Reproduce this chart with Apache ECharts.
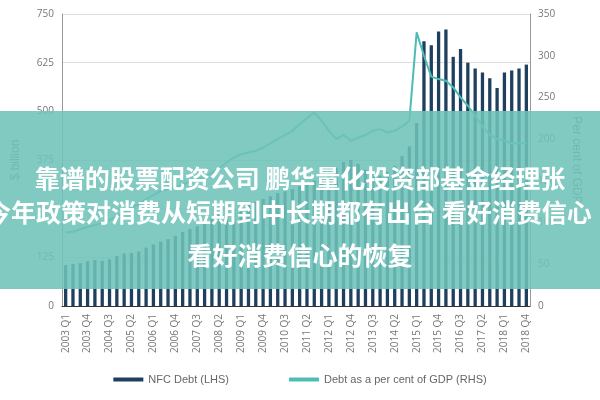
<!DOCTYPE html><html><head><meta charset="utf-8"><script src="https://cdn.jsdelivr.net/npm/echarts@6/dist/echarts.min.js"></script></head><body style="margin:0"><div id="c" style="width:600px;height:400px"></div><script>
const categories=[];for(let y=2003;y<=2018;y++)for(let q=1;q<=4;q++)categories.push(y+' Q'+q);
const nfcDebt=[105,108,110,115,118,116,120,128,135,136,140,150,158,165,172,180,190,198,205,215,225,235,240,250,255,262,268,275,282,290,295,300,308,315,322,330,340,355,370,375,365,350,340,335,345,360,385,410,470,680,670,705,710,640,660,625,610,600,585,560,600,605,610,620];
const debtGdp=[88,89,92,95,97,100,103,107,112,118,122,128,133,138,140,143,145,150,152,155,160,165,172,178,182,184,186,190,195,200,205,210,218,225,232,222,210,200,205,198,202,205,210,212,208,210,215,222,328,300,275,272,270,262,250,240,228,215,205,200,198,195,195,195];
const leftTicks=[0,125,250,375,500,625,750],rightTicks=[0,50,100,150,200,250,300,350];
const ch=echarts.init(document.getElementById('c'));
const lbl={color:'#777',fontSize:10,fontFamily:'Open Sans'};
ch.setOption({animation:false,
grid:{left:62,right:70,top:14,bottom:94},
legend:{bottom:10,itemGap:60,textStyle:{color:'#666',fontSize:11},data:[{name:'NFC Debt (LHS)',icon:'rect'},{name:'Debt as a per cent of GDP (RHS)',icon:'rect'}],itemWidth:30,itemHeight:4},
xAxis:{type:'category',data:categories,axisTick:{show:false},axisLine:{lineStyle:{color:'#333'}},axisLabel:Object.assign({},lbl,{rotate:90,interval:2})},
yAxis:[{type:'value',min:0,max:750,interval:125,name:'$ billion',nameLocation:'middle',nameGap:40,nameTextStyle:{color:'#777'},axisLabel:lbl,splitLine:{lineStyle:{color:'#ddd'}},axisLine:{show:true,lineStyle:{color:'#999'}}},
{type:'value',min:0,max:350,interval:50,name:'Per cent of GDP',nameLocation:'middle',nameGap:40,nameRotate:-90,nameTextStyle:{color:'#777'},axisLabel:lbl,splitLine:{show:false},axisLine:{show:true,lineStyle:{color:'#999'}}}],
series:[{name:'NFC Debt (LHS)',type:'bar',data:nfcDebt,barWidth:'45%',itemStyle:{color:'#1f3f5e'}},
{name:'Debt as a per cent of GDP (RHS)',type:'line',yAxisIndex:1,data:debtGdp,symbol:'none',lineStyle:{color:'#4cbdb3',width:2},itemStyle:{color:'#4cbdb3'}}],
graphic:[{type:'rect',shape:{x:0,y:111,width:600,height:178},style:{fill:'rgba(110,195,185,0.88)'},z:100},
{type:'text',left:'center',top:166,style:{text:'靠谱的股票配资公司 鹏华量化投资部基金经理张',fill:'#fff',font:'bold 25px "Noto Sans CJK SC"'},z:101},
{type:'text',left:-14,top:200,style:{text:'今年政策对消费从短期到中长期都有出台 看好消费信心',fill:'#fff',font:'bold 25px "Noto Sans CJK SC"'},z:101},
{type:'text',left:'center',top:243,style:{text:'看好消费信心的恢复',fill:'#fff',font:'bold 25px "Noto Sans CJK SC"'},z:101}]
});
</script></body></html>
